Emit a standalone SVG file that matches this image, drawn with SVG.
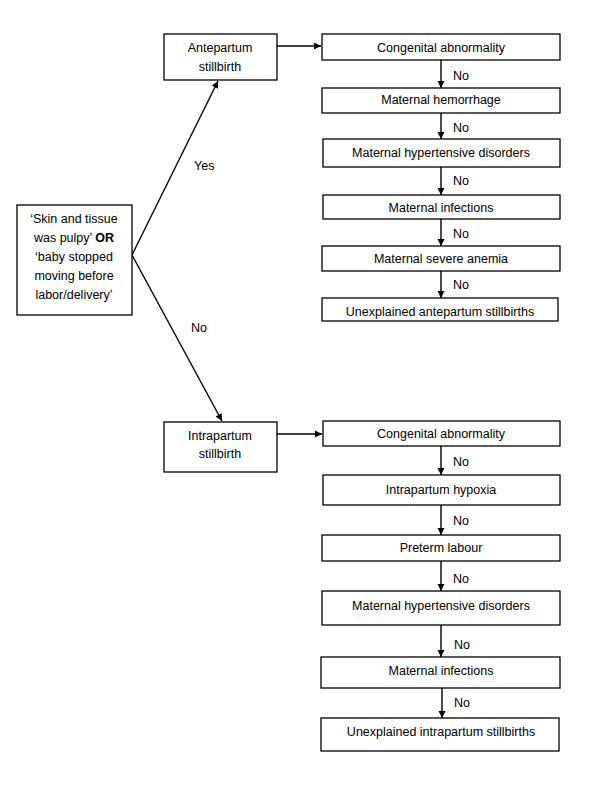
<svg xmlns="http://www.w3.org/2000/svg" width="600" height="787" viewBox="0 0 600 787">
<style>
.box{fill:#fff;stroke:#000;stroke-width:1.3}
.t{font-family:"Liberation Sans",Arial,sans-serif;font-size:12.5px;fill:#000;text-anchor:middle;dominant-baseline:central}
.lbl{font-family:"Liberation Sans",Arial,sans-serif;font-size:12.5px;fill:#000;dominant-baseline:central}
.c{stroke:#000;stroke-width:1.4;fill:none;marker-end:url(#ah)}
</style>
<defs>
<marker id="ah" markerWidth="8" markerHeight="8" refX="7" refY="4" orient="auto" markerUnits="userSpaceOnUse">
<path d="M0,0.5 L7,4 L0,7.5 Z" fill="#000"/>
</marker>
</defs>
<rect width="600" height="787" fill="#fff"/>
<g id="connectors">
<line class="c" x1="132" y1="255" x2="218" y2="81"/>
<line class="c" x1="132" y1="255" x2="222" y2="421"/>
<line class="c" x1="277" y1="46" x2="321" y2="46"/>
<line class="c" x1="277" y1="434" x2="322" y2="434"/>
<line class="c" x1="441" y1="60" x2="441" y2="88"/>
<line class="c" x1="441" y1="113" x2="441" y2="139"/>
<line class="c" x1="441" y1="167" x2="441" y2="195"/>
<line class="c" x1="441" y1="219" x2="441" y2="246"/>
<line class="c" x1="441" y1="271" x2="441" y2="298"/>
<line class="c" x1="441" y1="446" x2="441" y2="475"/>
<line class="c" x1="441" y1="505" x2="441" y2="535"/>
<line class="c" x1="441" y1="561" x2="441" y2="591"/>
<line class="c" x1="441" y1="625" x2="441" y2="657"/>
<line class="c" x1="442" y1="688" x2="442" y2="718"/>
<text class="lbl" x="194" y="166">Yes</text>
<text class="lbl" x="191" y="328">No</text>
<text class="lbl" x="453" y="76">No</text>
<text class="lbl" x="453" y="128">No</text>
<text class="lbl" x="453" y="181">No</text>
<text class="lbl" x="453" y="234">No</text>
<text class="lbl" x="453" y="285">No</text>
<text class="lbl" x="453" y="462">No</text>
<text class="lbl" x="453" y="521">No</text>
<text class="lbl" x="453" y="579">No</text>
<text class="lbl" x="454" y="645">No</text>
<text class="lbl" x="454" y="703">No</text>
</g>
<g id="question">
<rect class="box" x="17" y="205" width="115" height="110"/>
<text class="t" x="74" y="219">‘Skin and tissue</text>
<text class="t" x="74" y="238">was pulpy’ <tspan font-weight="bold">OR</tspan></text>
<text class="t" x="74" y="257">‘baby stopped</text>
<text class="t" x="74" y="276">moving before</text>
<text class="t" x="74" y="295">labor/delivery’</text>
</g>
<g id="antepartum">
<rect class="box" x="164" y="34" width="113" height="46"/>
<text class="t" x="220" y="48">Antepartum</text>
<text class="t" x="220" y="67">stillbirth</text>
</g>
<g id="a1"><rect class="box" x="322" y="34" width="238" height="26"/><text class="t" x="441" y="48">Congenital abnormality</text></g>
<g id="a2"><rect class="box" x="322" y="88" width="238" height="25"/><text class="t" x="441" y="100">Maternal hemorrhage</text></g>
<g id="a3"><rect class="box" x="323" y="139" width="237" height="28"/><text class="t" x="441" y="153">Maternal hypertensive disorders</text></g>
<g id="a4"><rect class="box" x="323" y="195" width="237" height="24"/><text class="t" x="441" y="208">Maternal infections</text></g>
<g id="a5"><rect class="box" x="322" y="246" width="238" height="25"/><text class="t" x="441" y="259">Maternal severe anemia</text></g>
<g id="a6"><rect class="box" x="322" y="298" width="236" height="23"/><text class="t" x="440" y="312">Unexplained antepartum stillbirths</text></g>
<g id="intrapartum">
<rect class="box" x="164" y="422" width="113" height="50"/>
<text class="t" x="220" y="436">Intrapartum</text>
<text class="t" x="220" y="454">stillbirth</text>
</g>
<g id="i1"><rect class="box" x="323" y="421" width="237" height="25"/><text class="t" x="441" y="434">Congenital abnormality</text></g>
<g id="i2"><rect class="box" x="323" y="475" width="237" height="30"/><text class="t" x="441" y="490">Intrapartum hypoxia</text></g>
<g id="i3"><rect class="box" x="322" y="535" width="238" height="26"/><text class="t" x="441" y="548">Preterm labour</text></g>
<g id="i4"><rect class="box" x="322" y="591" width="238" height="34"/><text class="t" x="441" y="606">Maternal hypertensive disorders</text></g>
<g id="i5"><rect class="box" x="321" y="657" width="239" height="31"/><text class="t" x="441" y="671">Maternal infections</text></g>
<g id="i6"><rect class="box" x="321" y="718" width="238" height="33"/><text class="t" x="441" y="732">Unexplained intrapartum stillbirths</text></g>
</svg>
